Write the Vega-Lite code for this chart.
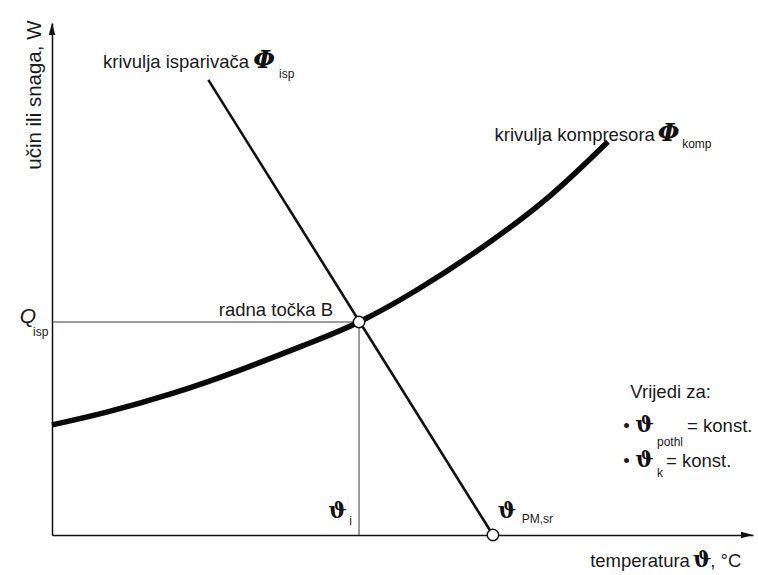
{
  "$schema": "https://vega.github.io/schema/vega-lite/v6.json",
  "width": 701,
  "height": 512,
  "autosize": {"type": "none"},
  "padding": {"left": 52, "top": 23, "right": 5, "bottom": 40},
  "background": "white",
  "config": {
    "view": {"stroke": null},
    "axis": {"grid": false, "ticks": false, "labels": false, "domainColor": "#111111", "domainWidth": 1.5}
  },
  "datasets": {
    "compressor": [
      {"t": 0, "p": 21.5},
      {"t": 7.8, "p": 24.0},
      {"t": 17.3, "p": 27.7},
      {"t": 26.8, "p": 32.2},
      {"t": 36.4, "p": 37.3},
      {"t": 43.8, "p": 41.6},
      {"t": 52.1, "p": 47.9},
      {"t": 61.5, "p": 56.3},
      {"t": 71.0, "p": 66.2},
      {"t": 79.3, "p": 76.8}
    ],
    "evaporator": [
      {"t": 22.3, "p": 88.9},
      {"t": 62.9, "p": 0}
    ],
    "points": [
      {"name": "B", "t": 43.8, "p": 41.6},
      {"name": "PM,sr", "t": 62.9, "p": 0}
    ],
    "yTip": [{"t": 0, "p": 100}],
    "xTip": [{"t": 100, "p": 0}],
    "textLeft": [
      {"t": 23.8, "p": 42.8, "label": "radna točka B"},
      {"t": 82.5, "p": 26.8, "label": "Vrijedi za:"},
      {"t": 81.5, "p": 20.1, "label": "•"},
      {"t": 81.5, "p": 13.3, "label": "•"},
      {"t": 90.6, "p": 20.1, "label": "= konst."},
      {"t": 87.6, "p": 13.3, "label": "= konst."},
      {"t": 93.9, "p": -6.25, "label": ", °C"}
    ],
    "textRight": [
      {"t": 28.1, "p": 91.2, "label": "krivulja isparivača"},
      {"t": 86.0, "p": 77.0, "label": "krivulja kompresora"},
      {"t": 91.0, "p": -6.25, "label": "temperatura"}
    ],
    "phi": [
      {"t": 28.7, "p": 91.2, "label": "Φ"},
      {"t": 86.4, "p": 77.0, "label": "Φ"}
    ],
    "theta": [
      {"t": 39.4, "p": 3.3, "label": "ϑ"},
      {"t": 63.6, "p": 3.3, "label": "ϑ"},
      {"t": 83.2, "p": 20.1, "label": "ϑ"},
      {"t": 83.2, "p": 13.3, "label": "ϑ"},
      {"t": 91.4, "p": -6.25, "label": "ϑ"}
    ],
    "qSymbol": [
      {"t": -4.6, "p": 41.4, "label": "Q"}
    ],
    "subscripts": [
      {"t": 32.4, "p": 89.3, "label": "isp"},
      {"t": 89.9, "p": 75.6, "label": "komp"},
      {"t": -2.7, "p": 38.9, "label": "isp"},
      {"t": 42.4, "p": 2.0, "label": "i"},
      {"t": 67.0, "p": 2.3, "label": "PM,sr"},
      {"t": 86.3, "p": 17.3, "label": "pothl"},
      {"t": 86.3, "p": 11.3, "label": "k"}
    ]
  },
  "encoding": {
    "x": {
      "field": "t",
      "type": "quantitative",
      "scale": {"domain": [0, 100], "nice": false, "zero": false},
      "axis": {"title": null, "orient": "bottom"}
    },
    "y": {
      "field": "p",
      "type": "quantitative",
      "scale": {"domain": [0, 100], "nice": false, "zero": false},
      "axis": {
        "orient": "left",
        "title": "učin ili snaga, W",
        "titleAngle": 270,
        "titleX": -12,
        "titleY": -3,
        "titleAlign": "right",
        "titleBaseline": "alphabetic",
        "titleFont": "Liberation Sans, Arial, sans-serif",
        "titleFontSize": 20.5,
        "titleFontWeight": "normal",
        "titleColor": "#1a1a1a"
      }
    }
  },
  "layer": [
    {
      "data": {"name": "points"},
      "transform": [{"filter": "datum.name == 'B'"}],
      "mark": {"type": "rule", "color": "#3a3a3a", "strokeWidth": 1},
      "encoding": {
        "x": {"datum": 0, "type": "quantitative"},
        "x2": {"field": "t"}
      }
    },
    {
      "data": {"name": "points"},
      "transform": [{"filter": "datum.name == 'B'"}],
      "mark": {"type": "rule", "color": "#3a3a3a", "strokeWidth": 1},
      "encoding": {
        "y": {"datum": 0, "type": "quantitative"},
        "y2": {"field": "p"}
      }
    },
    {
      "data": {"name": "evaporator"},
      "mark": {"type": "line", "color": "#111111", "strokeWidth": 2.6},
      "encoding": {}
    },
    {
      "data": {"name": "compressor"},
      "mark": {"type": "line", "color": "#0a0a0a", "strokeWidth": 5.5, "interpolate": "natural"},
      "encoding": {}
    },
    {
      "data": {"name": "points"},
      "mark": {"type": "point", "shape": "circle", "filled": true, "fill": "white", "stroke": "#111111", "strokeWidth": 1.5, "size": 130, "opacity": 1}
    },
    {
      "data": {"name": "yTip"},
      "mark": {"type": "point", "shape": "M0,0L-0.65,2.4L0.65,2.4Z", "filled": true, "color": "#111111", "size": 100, "opacity": 1}
    },
    {
      "data": {"name": "xTip"},
      "mark": {"type": "point", "shape": "M0,0L-2.4,-0.65L-2.4,0.65Z", "filled": true, "color": "#111111", "size": 100, "opacity": 1}
    },
    {
      "data": {"name": "textLeft"},
      "mark": {"type": "text", "align": "left", "baseline": "alphabetic", "font": "Liberation Sans, Arial, sans-serif", "fontSize": 18.5, "color": "#1a1a1a"},
      "encoding": {"text": {"field": "label"}}
    },
    {
      "data": {"name": "textRight"},
      "mark": {"type": "text", "align": "right", "baseline": "alphabetic", "font": "Liberation Sans, Arial, sans-serif", "fontSize": 18.5, "color": "#1a1a1a"},
      "encoding": {"text": {"field": "label"}}
    },
    {
      "data": {"name": "phi"},
      "mark": {"type": "text", "align": "left", "baseline": "alphabetic", "font": "DejaVu Serif", "fontStyle": "italic", "fontWeight": "bold", "fontSize": 25, "color": "#111111"},
      "encoding": {"text": {"field": "label"}}
    },
    {
      "data": {"name": "theta"},
      "mark": {"type": "text", "align": "left", "baseline": "alphabetic", "font": "DejaVu Serif", "fontWeight": "bold", "fontSize": 22, "color": "#111111"},
      "encoding": {"text": {"field": "label"}}
    },
    {
      "data": {"name": "qSymbol"},
      "mark": {"type": "text", "align": "left", "baseline": "alphabetic", "font": "Liberation Sans, Arial, sans-serif", "fontStyle": "italic", "fontSize": 21, "color": "#1a1a1a"},
      "encoding": {"text": {"field": "label"}}
    },
    {
      "data": {"name": "subscripts"},
      "mark": {"type": "text", "align": "left", "baseline": "alphabetic", "font": "Liberation Sans, Arial, sans-serif", "fontSize": 12, "color": "#1a1a1a"},
      "encoding": {"text": {"field": "label"}}
    }
  ]
}
